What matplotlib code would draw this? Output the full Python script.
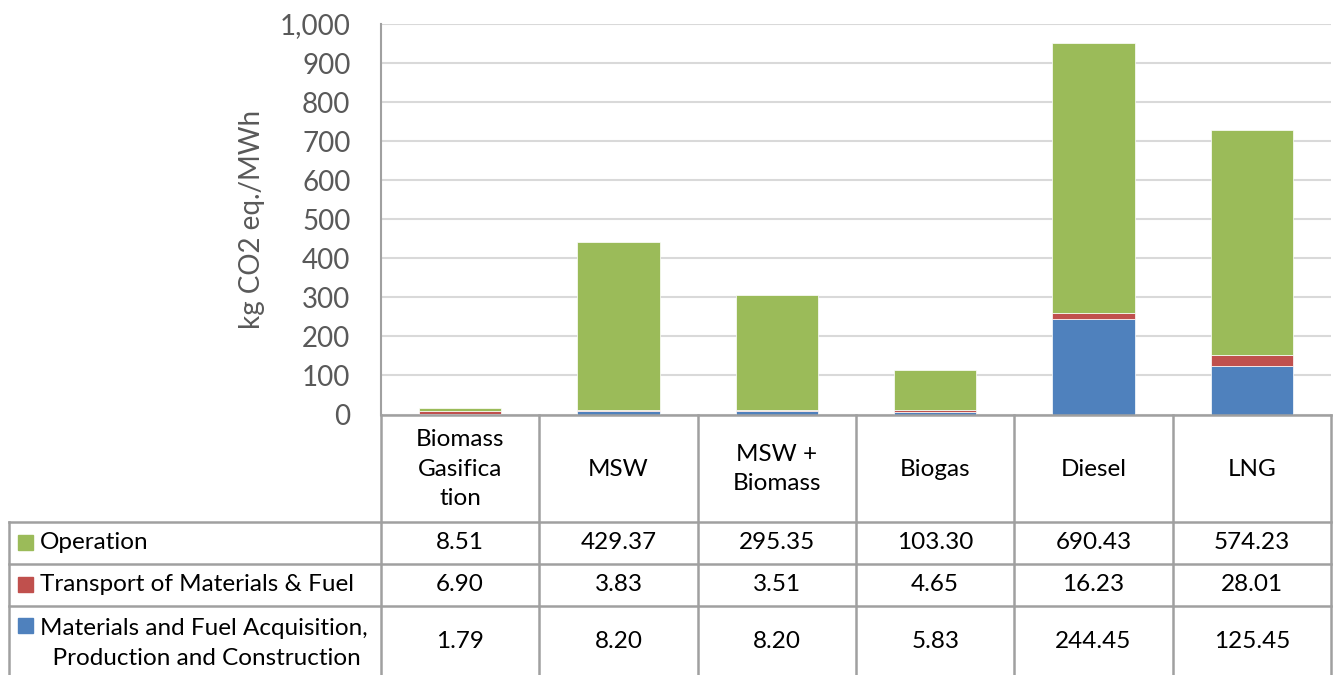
import numpy as np
import matplotlib
matplotlib.use("Agg")
import matplotlib.pyplot as plt
from matplotlib.patches import Rectangle

plt.rcParams['font.family'] = ['Lato', 'DejaVu Sans']

# --- data ---
categories = ["Biomass\nGasifica\ntion", "MSW", "MSW +\nBiomass", "Biogas", "Diesel", "LNG"]
operation = [8.51, 429.37, 295.35, 103.30, 690.43, 574.23]
transport = [6.90, 3.83, 3.51, 4.65, 16.23, 28.01]
materials = [1.79, 8.20, 8.20, 5.83, 244.45, 125.45]
series_names = ["Operation", "Transport of Materials & Fuel",
                "Materials and Fuel Acquisition,\n  Production and Construction"]
colors = ["#9BBB59", "#C0504D", "#4F81BD"]
yticks = [0, 100, 200, 300, 400, 500, 600, 700, 800, 900, 1000]

W, H = 1333, 675
fig = plt.figure(figsize=(W / 100, H / 100), dpi=100)

# plot area in pixel coordinates of the image
left, right, top, base = 381, 1331, 24, 414.5
ax = fig.add_axes([left / W, 1 - base / H, (right - left) / W, (base - top) / H])

x = np.arange(len(categories))
mat = np.array(materials)
tra = np.array(transport)
ope = np.array(operation)
ax.bar(x, mat, width=0.52, color=colors[2], edgecolor="white", linewidth=0.5, zorder=3)
ax.bar(x, tra, width=0.52, bottom=mat, color=colors[1], edgecolor="white", linewidth=0.5, zorder=3)
ax.bar(x, ope, width=0.52, bottom=mat + tra, color=colors[0], edgecolor="white", linewidth=0.5, zorder=3)

ax.set_xlim(-0.5, len(categories) - 0.5)
ax.set_ylim(0, 1000)
ax.set_yticks(yticks)
ax.set_yticklabels([f"{v:,}" for v in yticks], fontsize=20, color="#595959")
ax.tick_params(axis="y", length=0, pad=22)
ax.set_xticks([])
ax.grid(axis="y", color="#D9D9D9", linewidth=1.5, zorder=0)
for s in ["top", "right", "bottom"]:
    ax.spines[s].set_visible(False)
ax.spines["left"].set_color("#A0A0A0")
ax.spines["left"].set_linewidth(1.5)
ax.set_ylabel("kg CO2 eq./MWh", fontsize=20, color="#595959")
ax.yaxis.label.set_verticalalignment("center")
ax.yaxis.set_label_coords((252 - left) / (right - left), 0.5)

# --- data table below the chart (image pixel coords, y downward) ---
tab = fig.add_axes([0, 0, 1, 1 - base / H])
tab.set_xlim(0, W)
tab.set_ylim(H, base)
tab.axis("off")

line_kw = dict(color="#A0A0A0", linewidth=1.8, clip_on=False)
col_w = (right - left) / len(categories)
col_edges = [left + k * col_w for k in range(len(categories) + 1)]
row_edges = [base, 521.7, 564, 605.7, H + 5]
tab_left = 9

tab.plot([left, right], [base, base], **line_kw)
for xe in col_edges:
    tab.plot([xe, xe], [base, H + 5], **line_kw)
tab.plot([tab_left, tab_left], [row_edges[1], H + 5], **line_kw)
for ye in row_edges[1:4]:
    tab.plot([tab_left, right], [ye, ye], **line_kw)

fs = 17.5
for i, cat in enumerate(categories):
    cx = (col_edges[i] + col_edges[i + 1]) / 2
    tab.text(cx, (row_edges[0] + row_edges[1]) / 2 + 1, cat, ha="center", va="center",
             fontsize=fs, color="black", linespacing=1.5)

rows = [operation, transport, materials]
for r, (vals, name, c) in enumerate(zip(rows, series_names, colors)):
    y0, y1 = row_edges[r + 1], row_edges[r + 2]
    if r == 2:
        y1 = H + 2
    cy = (y0 + y1) / 2
    for i, v in enumerate(vals):
        cx = (col_edges[i] + col_edges[i + 1]) / 2
        tab.text(cx, cy, f"{v:.2f}", ha="center", va="center", fontsize=fs, color="black")
    if r == 2:
        sq_y = y0 + 20
        tab.add_patch(Rectangle((18, sq_y - 7.5), 15, 15, color=c, clip_on=False))
        tab.text(40, cy + 2, name, ha="left", va="center", fontsize=fs, color="black", linespacing=1.5)
    else:
        tab.add_patch(Rectangle((18, cy - 7.5), 15, 15, color=c, clip_on=False))
        tab.text(40, cy, name, ha="left", va="center", fontsize=fs, color="black")

fig.savefig("out.png", dpi=100)
